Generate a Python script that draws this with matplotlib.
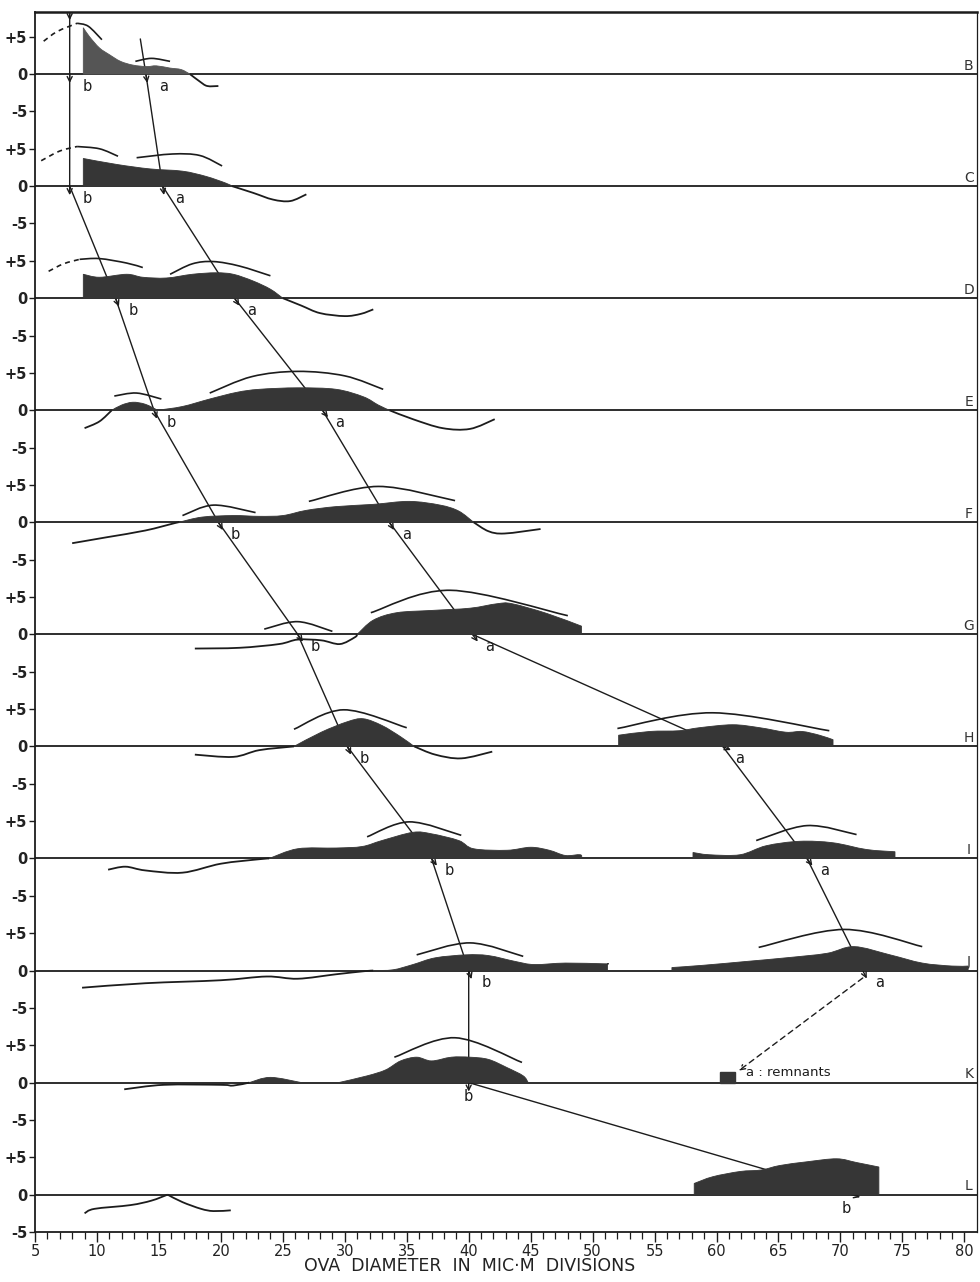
import matplotlib
matplotlib.use("Agg")
import matplotlib.pyplot as plt
from matplotlib.path import Path
from matplotlib.patches import PathPatch, Rectangle

plt.rcParams['font.family'] = ['DejaVu Sans']

# panel letters, top to bottom; each panel's zero line is 15 units below the previous one
panels = ["B", "C", "D", "E", "F", "G", "H", "I", "J", "K", "L"]
gap = 15

# dark (filled) frequency profiles: panel, x (ova diameter), y (frequency)
# the outline drops straight to the zero line at both ends
fills = [
    ("B", [8.9, 9.4, 10.2, 11.0, 11.9, 12.9, 14.0, 14.8, 15.9, 16.8, 17.5],
          [6.2, 5.0, 3.5, 2.6, 1.7, 1.2, 1.0, 1.1, 0.8, 0.6, 0]),
    ("C", [8.9, 11.6, 14.3, 16.9, 18.8, 20.4, 20.9],
          [3.7, 2.9, 2.3, 2.0, 1.3, 0.4, 0]),
    ("D", [8.9, 10.2, 12.4, 13.7, 15.6, 17.7, 19.6, 21.0, 22.6, 24.0, 25.0],
          [3.2, 2.8, 3.2, 2.8, 2.7, 3.2, 3.4, 3.2, 2.3, 1.2, 0]),
    ("E", [11.2, 12.0, 12.9, 13.9, 14.9],
          [0, 0.7, 1.07, 0.8, 0]),
    ("E", [14.9, 16.9, 19.1, 21.3, 23.1, 26.2, 29.3, 31.5, 32.7, 33.6],
          [0, 0.5, 1.5, 2.4, 2.8, 3.0, 2.8, 1.8, 0.7, 0]),
    ("F", [16.6, 18.5, 21.0, 23.1, 25.0, 26.9, 29.3, 32.3, 35.2, 37.7, 39.2, 40.4],
          [0, 0.7, 0.9, 0.8, 0.9, 1.6, 2.1, 2.4, 2.8, 2.3, 1.5, 0]),
    ("G", [31.0, 32.3, 34.2, 37.0, 40.1, 42.3, 43.5, 46.3, 49.1],
          [0, 1.9, 2.9, 3.2, 3.5, 4.1, 4.1, 2.8, 1.1]),
    ("H", [25.9, 28.1, 30.2, 31.5, 33.0, 34.5, 35.6],
          [0, 1.9, 3.3, 3.7, 2.8, 1.3, 0]),
    ("H", [52.1, 54.6, 57.0, 58.6, 61.3, 63.5, 65.6, 66.9, 68.3, 69.4],
          [1.5, 2.0, 2.1, 2.5, 2.9, 2.5, 1.9, 2.0, 1.5, 0.9]),
    ("I", [23.9, 26.2, 29.3, 31.4, 33.0, 35.5, 37.0, 39.2, 40.4, 43.1, 45.0, 46.5, 47.8, 49.0, 49.1],
          [0, 1.3, 1.4, 1.6, 2.4, 3.5, 3.3, 2.4, 1.3, 1.1, 1.5, 1.1, 0.4, 0.5, 0]),
    ("I", [58.1, 59.4, 61.9, 64.0, 66.7, 69.4, 72.1, 74.4],
          [0.8, 0.5, 0.5, 1.7, 2.3, 2.1, 1.2, 0.9]),
    ("J", [32.3, 33.9, 35.5, 37.3, 39.8, 41.6, 43.8, 45.3, 47.8, 50.9, 51.2],
          [0, 0.1, 0.8, 1.7, 2.1, 2.0, 1.2, 0.8, 1.0, 0.9, 0.9]),
    ("J", [56.4, 58.9, 62.3, 65.6, 68.9, 71.1, 74.0, 76.6, 79.0, 80.3],
          [0.4, 0.7, 1.2, 1.7, 2.3, 3.2, 2.1, 1.0, 0.6, 0.6]),
    ("K", [22.3, 24.0, 26.5], [0, 0.7, 0]),
    ("K", [29.5, 31.8, 33.3, 34.5, 35.8, 37.0, 38.6, 40.1, 41.6, 43.1, 44.4, 44.8],
          [0, 0.9, 1.7, 2.9, 3.4, 2.9, 3.4, 3.4, 3.1, 2.0, 0.9, 0]),
    ("L", [58.2, 59.7, 61.9, 63.6, 65.1, 67.3, 69.7, 71.3, 73.1],
          [1.5, 2.4, 3.1, 3.3, 3.9, 4.4, 4.8, 4.3, 3.7]),
]

# thin continuation curves (deficits below zero)
curves = [
    ("B", [17.5, 18.3, 18.9, 19.8], [0, -1.0, -1.6, -1.6]),
    ("C", [20.9, 22.6, 24.2, 25.6, 26.9], [0, -0.9, -1.8, -2.0, -1.1]),
    ("D", [25.0, 26.5, 28.0, 30.0, 31.3, 32.3], [0, -1.0, -2.0, -2.4, -2.1, -1.5]),
    ("E", [9.0, 10.2, 11.2], [-2.4, -1.5, 0]),
    ("E", [33.6, 35.5, 37.9, 40.1, 42.1], [0, -1.2, -2.4, -2.5, -1.2]),
    ("F", [8.0, 10.8, 13.9, 16.3, 16.6], [-2.8, -2.0, -1.1, -0.1, 0]),
    ("F", [40.4, 41.6, 42.9, 45.8], [0, -1.2, -1.5, -0.9]),
    ("G", [17.9, 21.5, 24.7, 26.2, 28.1, 29.6, 30.8, 31.0], [-1.9, -1.8, -1.3, -0.7, -0.8, -1.3, -0.4, 0]),
    ("H", [17.9, 21.0, 23.1, 25.9], [-1.1, -1.4, -0.5, 0]),
    ("H", [35.6, 37.3, 39.4, 41.9], [0, -1.1, -1.6, -0.7]),
    ("I", [10.9, 12.3, 13.9, 16.9, 20.0, 23.1, 23.9], [-1.5, -1.1, -1.6, -1.9, -0.7, -0.1, 0]),
    ("J", [8.8, 13.9, 20.0, 23.7, 26.2, 29.3, 31.5, 32.3], [-2.3, -1.7, -1.3, -0.8, -1.1, -0.5, -0.1, 0]),
    ("K", [12.2, 15.4, 20.0, 21.0, 22.3], [-0.9, -0.3, -0.3, -0.4, 0]),
    ("L", [9.0, 9.8, 12.7, 14.4, 15.7], [-2.5, -1.9, -1.4, -0.8, 0]),
    ("L", [15.7, 16.9, 18.4, 19.4, 20.8], [0, -1.0, -1.9, -2.2, -2.1]),
]

# arcs over the modes: panel, x, y, dashed?
arcs = [
    ("B", [5.7, 6.8, 8.4], [4.4, 5.7, 6.8], True),
    ("B", [8.4, 9.3, 10.4], [6.8, 6.4, 4.6], False),
    ("B", [13.1, 14.4, 15.9], [1.7, 2.1, 1.7], False),
    ("C", [5.5, 7.0, 8.4], [3.4, 4.7, 5.3], True),
    ("C", [8.4, 10.2, 11.7], [5.3, 5.0, 4.0], False),
    ("C", [13.2, 16.1, 18.3, 20.1], [3.8, 4.3, 4.1, 2.7], False),
    ("D", [6.1, 7.3, 8.6], [3.6, 4.6, 5.2], True),
    ("D", [8.6, 10.2, 12.4, 13.7], [5.2, 5.3, 4.7, 4.1], False),
    ("D", [15.9, 17.7, 19.4, 21.5, 24.0], [3.2, 4.6, 4.9, 4.3, 3.0], False),
    ("E", [11.4, 13.2, 15.2], [1.9, 2.3, 1.5], False),
    ("E", [19.1, 22.5, 26.2, 30.0, 33.1], [2.3, 4.5, 5.2, 4.6, 2.8], False),
    ("F", [16.9, 19.4, 22.8], [0.9, 2.3, 1.3], False),
    ("F", [27.1, 32.7, 38.9], [2.8, 4.8, 2.9], False),
    ("G", [23.5, 26.2, 29.0], [0.7, 1.7, 0.4], False),
    ("G", [32.1, 38.5, 48.0], [2.9, 5.9, 2.5], False),
    ("H", [25.9, 29.9, 35.0], [2.3, 4.9, 2.5], False),
    ("H", [52.0, 59.7, 69.1], [2.4, 4.5, 2.1], False),
    ("I", [31.8, 35.2, 39.4], [2.9, 4.9, 3.1], False),
    ("I", [63.2, 67.3, 71.3], [2.4, 4.4, 3.2], False),
    ("J", [35.8, 40.1, 44.4], [2.1, 3.7, 1.9], False),
    ("J", [63.4, 70.3, 76.6], [3.1, 5.5, 3.2], False),
    ("K", [34.0, 38.9, 44.3], [3.4, 6.0, 2.7], False),
]

# positions of the tracked modes on each panel's zero line
b_x = [7.8, 7.8, 11.5, 14.6, 19.8, 26.2, 30.2, 37.0, 40.0, 40.0, 70.9]   # B..L
a_x = [13.95, 15.3, 21.1, 28.2, 33.6, 40.3, 60.5, 67.3, 71.8]           # B..J
b_start = (7.8, 8.2)
a_start = (13.5, 4.7)
remnant_x = [60.3, 61.5]
remnant_h = 1.4

xticks = list(range(5, 81, 5))
yticklabels = ["+5", "0", "-5"]

ink = "#1c1c1c"
fill_col = "#363636"


def base(p):
    return -gap * panels.index(p)


def smooth(xs, ys, y0):
    # Catmull-Rom curve through the read points, as cubic Bezier pieces
    pts = [(x, y + y0) for x, y in zip(xs, ys)]
    verts = [pts[0]]
    codes = [Path.MOVETO]
    n = len(pts)
    for i in range(n - 1):
        p0 = pts[max(i - 1, 0)]
        p1 = pts[i]
        p2 = pts[i + 1]
        p3 = pts[min(i + 2, n - 1)]
        c1 = (p1[0] + (p2[0] - p0[0]) / 6, p1[1] + (p2[1] - p0[1]) / 6)
        c2 = (p2[0] - (p3[0] - p1[0]) / 6, p2[1] - (p3[1] - p1[1]) / 6)
        verts += [c1, c2, p2]
        codes += [Path.CURVE4] * 3
    return verts, codes


def arrow(ax, p, q, ls="-"):
    # line p -> q, carried ~9 px past q with an open arrow head
    px_x, px_y = 12.4, 7.47
    dx, dy = (q[0] - p[0]) * px_x, (q[1] - p[1]) * px_y
    length = (dx ** 2 + dy ** 2) ** 0.5
    end = (q[0] + dx / length * 9 / px_x, q[1] + dy / length * 9 / px_y)
    ax.annotate("", xy=end, xytext=p,
                arrowprops=dict(arrowstyle="->", color=ink, lw=1.0, linestyle=ls,
                                shrinkA=0, shrinkB=0, mutation_scale=9),
                zorder=2)


fig = plt.figure(figsize=(9.8, 12.82), dpi=100)
ax = fig.add_axes([0.0357, 0.039, 0.961, 0.9516])
ax.set_xlim(5, 81)
ax.set_ylim(-gap * (len(panels) - 1) - 5, 8.3)

# zero lines and panel letters
for p in panels:
    ax.axhline(base(p), color=ink, lw=1.3, zorder=1)
    ax.text(80.35, base(p) + 1.1, p, ha="center", va="center", fontsize=10, color="#333")

for p, xs, ys in fills:
    verts, codes = smooth(xs, ys, base(p))
    verts += [(xs[-1], base(p)), (xs[0], base(p)), (xs[0], base(p))]
    codes += [Path.LINETO, Path.LINETO, Path.CLOSEPOLY]
    col = "#555555" if p == "B" else fill_col
    ax.add_patch(PathPatch(Path(verts, codes), facecolor=col, edgecolor=col, lw=0.6, zorder=3))

for p, xs, ys in curves:
    verts, codes = smooth(xs, ys, base(p))
    ax.add_patch(PathPatch(Path(verts, codes), facecolor="none", edgecolor=ink, lw=1.3, zorder=2))

for p, xs, ys, dashed in arcs:
    verts, codes = smooth(xs, ys, base(p))
    ax.add_patch(PathPatch(Path(verts, codes), facecolor="none", edgecolor=ink, lw=1.2,
                           linestyle=(0, (3, 2.5)) if dashed else "-", zorder=2))

# mode b
b_pts = [(x, base(p)) for x, p in zip(b_x, panels)]
ax.annotate("", xy=(b_start[0], b_start[1] - 1.0), xytext=b_start,
            arrowprops=dict(arrowstyle="->", color=ink, lw=1.0, shrinkA=0, shrinkB=0, mutation_scale=9))
arrow(ax, b_start, b_pts[0])
for i in range(len(b_pts) - 1):
    arrow(ax, b_pts[i], b_pts[i + 1])
for i, (x, y) in enumerate(b_pts):
    if panels[i] == "K":
        ax.text(x, y - 1.9, "b", ha="center", va="center", fontsize=10.5, color=ink)
    elif panels[i] == "L":
        ax.text(x - 0.4, y - 1.9, "b", ha="center", va="center", fontsize=10.5, color=ink)
    else:
        ax.text(x + 1.4, y - 1.6, "b", ha="center", va="center", fontsize=10.5, color=ink)

# mode a
a_pts = [(x, base(p)) for x, p in zip(a_x, panels)]
arrow(ax, a_start, a_pts[0])
for i in range(len(a_pts) - 1):
    arrow(ax, a_pts[i], a_pts[i + 1])
for i, (x, y) in enumerate(a_pts):
    ax.text(x + 1.4, y - 1.6, "a", ha="center", va="center", fontsize=10.5, color=ink)

# remnants of a in K
kb = base("K")
ax.add_patch(Rectangle((remnant_x[0], kb), remnant_x[1] - remnant_x[0], remnant_h,
                       facecolor=fill_col, edgecolor=fill_col, zorder=3))
ax.annotate("", xy=(remnant_x[1] + 0.3, kb + 1.6), xytext=(a_x[-1], base("J") - 1.0),
            arrowprops=dict(arrowstyle="->", color=ink, lw=1.0, linestyle=(0, (4, 3)),
                            shrinkA=0, shrinkB=0, mutation_scale=9))
ax.text(62.4, kb + 1.3, "a : remnants", ha="left", va="center", fontsize=9.5, color=ink)

# axes frame and ticks
ax.spines["top"].set_linewidth(1.8)
ax.spines["left"].set_linewidth(1.3)
ax.spines["bottom"].set_linewidth(1.3)
ax.spines["right"].set_linewidth(0.9)
for s in ax.spines.values():
    s.set_color(ink)

yt, ytl = [], []
for p in panels:
    for v, lab in zip([5, 0, -5], yticklabels):
        yt.append(base(p) + v)
        ytl.append(lab)
ax.set_yticks(yt)
ax.set_yticklabels(ytl, fontsize=10.5, fontweight="bold", color="#222")
ax.tick_params(axis="y", length=4, width=1.0, pad=1.5, color=ink)

ax.set_xticks(xticks)
ax.set_xticks(range(5, 81), minor=True)
ax.set_xticklabels([str(t) for t in xticks], fontsize=10.5, color="#222")
ax.tick_params(axis="x", which="major", length=7, width=1.0, pad=1.5, color=ink)
ax.tick_params(axis="x", which="minor", length=5, width=0.9, color=ink)

fig.text(0.479, 0.0125, "OVA  DIAMETER  IN  MIC·M  DIVISIONS", ha="center", va="center",
         fontsize=12.5, color="#222")

fig.savefig("out.png", dpi=100, facecolor="white")
